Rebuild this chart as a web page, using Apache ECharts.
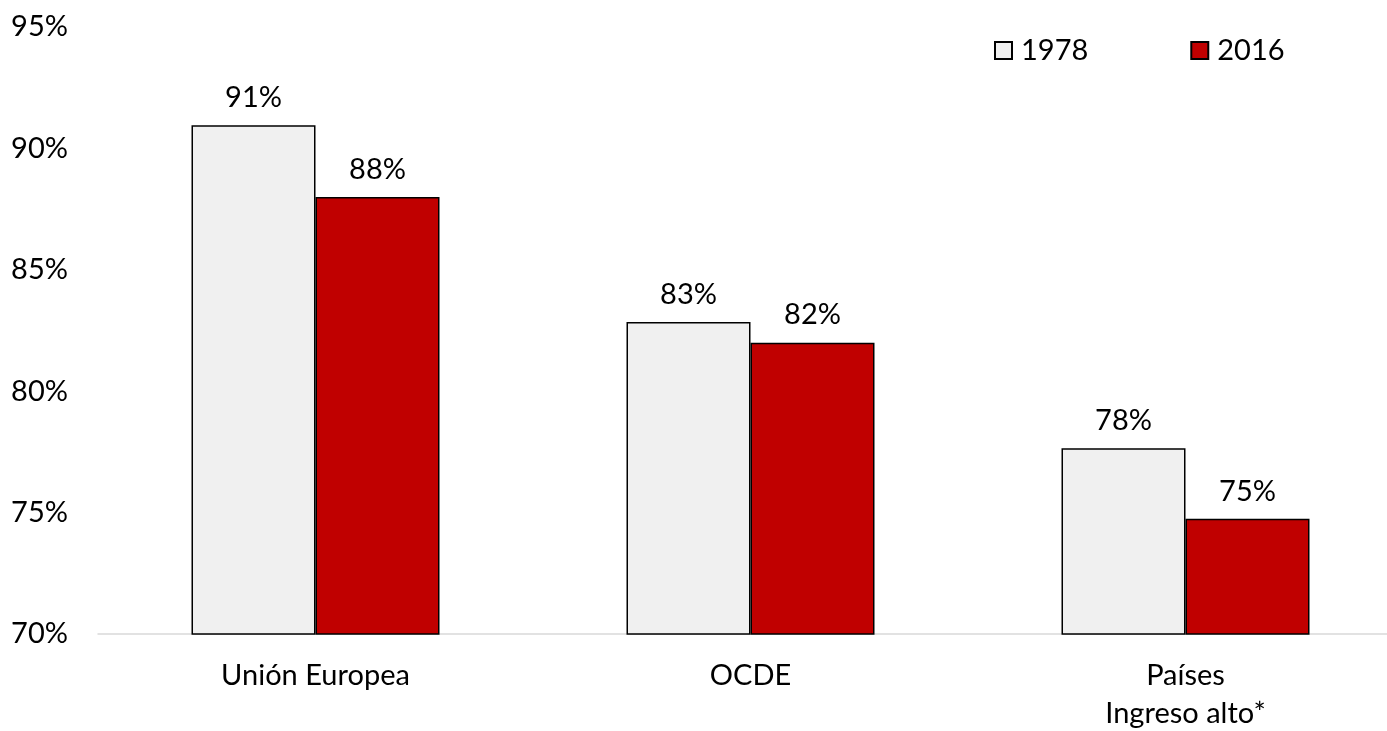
<!DOCTYPE html>
<html><head><meta charset="utf-8">
<script src="https://cdn.jsdelivr.net/npm/echarts@6/dist/echarts.min.js"></script>
<style>html,body{margin:0;padding:0;background:#fff}#c{width:1387px;height:731px}</style>
</head><body><div id="c"></div>
<script>
const categories = ['Unión Europea', 'OCDE', 'Países\nIngreso alto*'];
const seriesNames = ['1978', '2016'];
const values1978 = [90.95, 82.85, 77.65];
const values2016 = [88.0, 82.0, 74.75];
const yTicks = [70, 75, 80, 85, 90, 95];

const FONT = 'Lato';
const FS = 29;
const chart = echarts.init(document.getElementById('c'), null, {renderer: 'canvas'});
const labelCfg = {
  show: true, position: 'top', distance: 13,
  color: '#000', fontFamily: FONT, fontSize: FS,
  formatter: p => Math.round(p.value) + '%'
};
chart.setOption({
  animation: false,
  backgroundColor: '#fff',
  textStyle: {fontFamily: FONT},
  grid: {left: 98, top: 27, width: 1305, height: 607, containLabel: false, outerBoundsMode: 'none'},
  legend: {
    data: seriesNames, top: 31, left: 989, itemGap: 102,
    itemWidth: 17, itemHeight: 17, icon: 'rect',
    textStyle: {fontFamily: FONT, fontSize: FS, color: '#000', padding: [0, 0, 0, 4]}
  },
  xAxis: {
    type: 'category', data: categories,
    axisLine: {lineStyle: {color: '#D9D9D9', width: 1.5}},
    axisTick: {show: false},
    axisLabel: {color: '#000', fontFamily: FONT, fontSize: FS, margin: 23, lineHeight: 38, interval: 0}
  },
  yAxis: {
    type: 'value', min: yTicks[0], max: yTicks[yTicks.length - 1], interval: 5,
    axisLine: {show: false}, axisTick: {show: false}, splitLine: {show: false},
    axisLabel: {color: '#000', fontFamily: FONT, fontSize: FS, margin: 30, formatter: v => v + '%'}
  },
  series: [
    {name: seriesNames[0], type: 'bar', data: values1978, barWidth: 124, barGap: '0%',
     itemStyle: {color: '#F0F0F0', borderColor: '#000', borderWidth: 1.5}, label: labelCfg},
    {name: seriesNames[1], type: 'bar', data: values2016, barWidth: 124,
     itemStyle: {color: '#C00000', borderColor: '#000', borderWidth: 1.5}, label: labelCfg}
  ]
});
</script></body></html>
